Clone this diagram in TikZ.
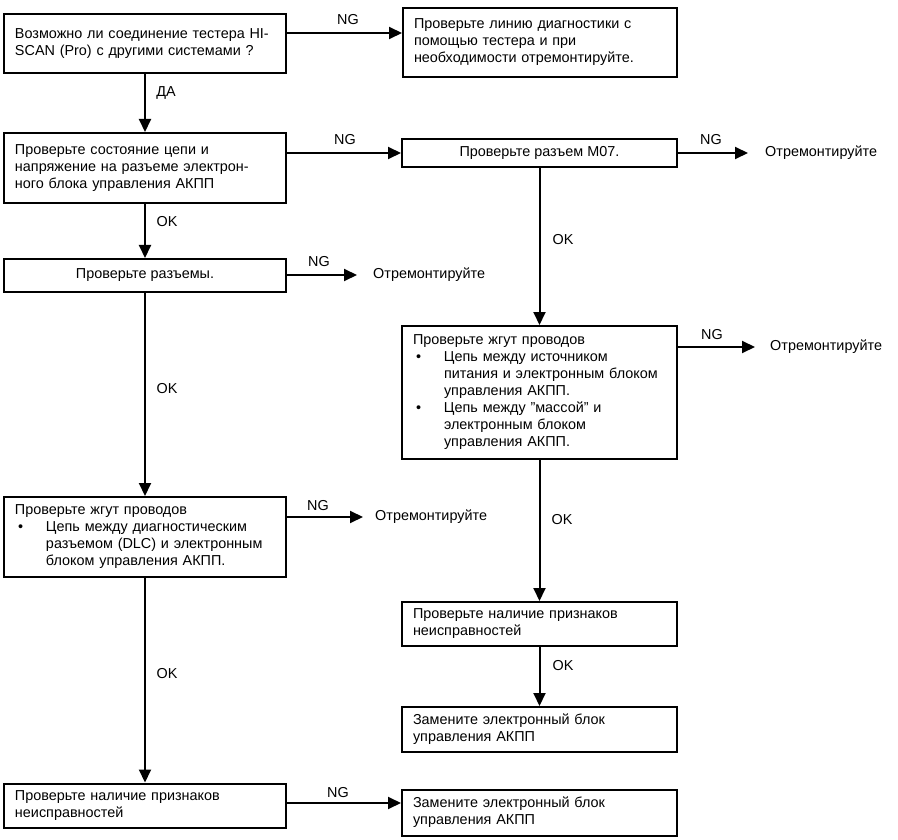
\documentclass[tikz,border=0pt]{standalone}
\usepackage{fontspec}
\setmainfont{Liberation Sans}
\usetikzlibrary{arrows.meta}
\newcommand{\mybul}{\makebox[31pt][l]{\hspace{3pt}•}}
\newcommand{\myind}{\hspace*{31pt}}
\newcommand{\lines}[1]{\begin{tabular}{@{}l@{}}#1\end{tabular}}
\begin{document}
\begin{tikzpicture}[x=1pt,y=-1pt,
  font=\fontsize{14.4}{17}\selectfont,
  box/.style={draw, line width=2pt, rectangle, inner xsep=11pt, inner ysep=0pt, align=left},
  cbox/.style={draw, line width=2pt, rectangle, inner xsep=0pt, inner ysep=0pt, align=center},
  arr/.style={line width=2pt, -{Triangle[length=13pt,width=12pt]}},
  lbl/.style={inner sep=0pt},
  fix/.style={anchor=west, inner sep=0pt}]
\useasboundingbox (0,0) rectangle (898,840);

% boxes
\node[box, text width=260pt, minimum height=59pt] (b1) at (145,43.5)
  {\lines{Возможно ли соединение тестера HI-\\SCAN (Pro) с другими системами ?}};
\node[box, text width=252pt, minimum height=69pt] (b2) at (540,42.5)
  {\lines{Проверьте линию диагностики с\\помощью тестера и при\\необходимости отремонтируйте.}};
\node[box, text width=260pt, minimum height=70pt] (b3) at (145,168)
  {\lines{Проверьте состояние цепи и\\напряжение на разъеме электрон-\\ного блока управления АКПП}};
\node[cbox, minimum width=282pt, minimum height=33pt] (b4) at (145,275.5) {Проверьте разъемы.};
\node[box, text width=260pt, minimum height=80pt] (b5) at (145,537)
  {\lines{Проверьте жгут проводов\\\mybul Цепь между диагностическим\\\myind разъемом (DLC) и электронным\\\myind блоком управления АКПП.}};
\node[box, text width=260pt, minimum height=44pt] (b6) at (145,805.5)
  {\lines{Проверьте наличие признаков\\неисправностей}};
\node[box, text width=253pt, minimum height=46pt] (b7) at (539.5,813)
  {\lines{Замените электронный блок\\управления АКПП}};
\node[cbox, minimum width=275pt, minimum height=28pt] (m07) at (539.5,153) {Проверьте разъем M07.};
\node[box, text width=253pt, minimum height=133pt] (b8) at (539.5,392.5)
  {\lines{Проверьте жгут проводов\\\mybul Цепь между источником\\\myind питания и электронным блоком\\\myind управления АКПП.\\\mybul Цепь между "массой" и\\\myind электронным блоком\\\myind управления АКПП.}};
\node[box, text width=253pt, minimum height=44pt] (b9) at (539.5,624)
  {\lines{Проверьте наличие признаков\\неисправностей}};
\node[box, text width=253pt, minimum height=45pt] (b10) at (539.5,729.5)
  {\lines{Замените электронный блок\\управления АКПП}};

% free texts
\node[fix] (r1) at (765,153) {Отремонтируйте};
\node[fix] (r2) at (373,275) {Отремонтируйте};
\node[fix] (r3) at (375,517) {Отремонтируйте};
\node[fix] (r4) at (770,347) {Отремонтируйте};

% connectors
\draw[arr] (b1.east |- 0,33) -- (b2.west |- 0,33);
\draw[arr] (b1.south) -- (b3.north);
\draw[arr] (b3.east |- m07.west) -- (m07.west);
\draw[arr] (m07.east) -- ([xshift=-17pt]r1.west);
\draw[arr] (b3.south) -- (b4.north);
\draw[arr] (b4.east |- r2.west) -- ([xshift=-16pt]r2.west);
\draw[arr] (b4.south) -- (b5.north);
\draw[arr] (b5.east |- r3.west) -- ([xshift=-12pt]r3.west);
\draw[arr] (b5.south) -- (b6.north);
\draw[arr] (b6.east |- 0,803) -- (b7.west |- 0,803);
\draw[arr] (m07.south) -- (b8.north);
\draw[arr] (b8.east |- r4.west) -- ([xshift=-15pt]r4.west);
\draw[arr] (b8.south) -- (b9.north);
\draw[arr] (b9.south) -- (b10.north);

% labels
\node[lbl] at (348,20) {NG};
\node[lbl] at (166,93) {ДА};
\node[lbl] at (345,140) {NG};
\node[lbl] at (711,140) {NG};
\node[lbl] at (167,222) {OK};
\node[lbl] at (319,262) {NG};
\node[lbl] at (167,389) {OK};
\node[lbl] at (318,506) {NG};
\node[lbl] at (167,674) {OK};
\node[lbl] at (338,793) {NG};
\node[lbl] at (563,240) {OK};
\node[lbl] at (712,335) {NG};
\node[lbl] at (562,520) {OK};
\node[lbl] at (563,666) {OK};
\end{tikzpicture}
\end{document}
